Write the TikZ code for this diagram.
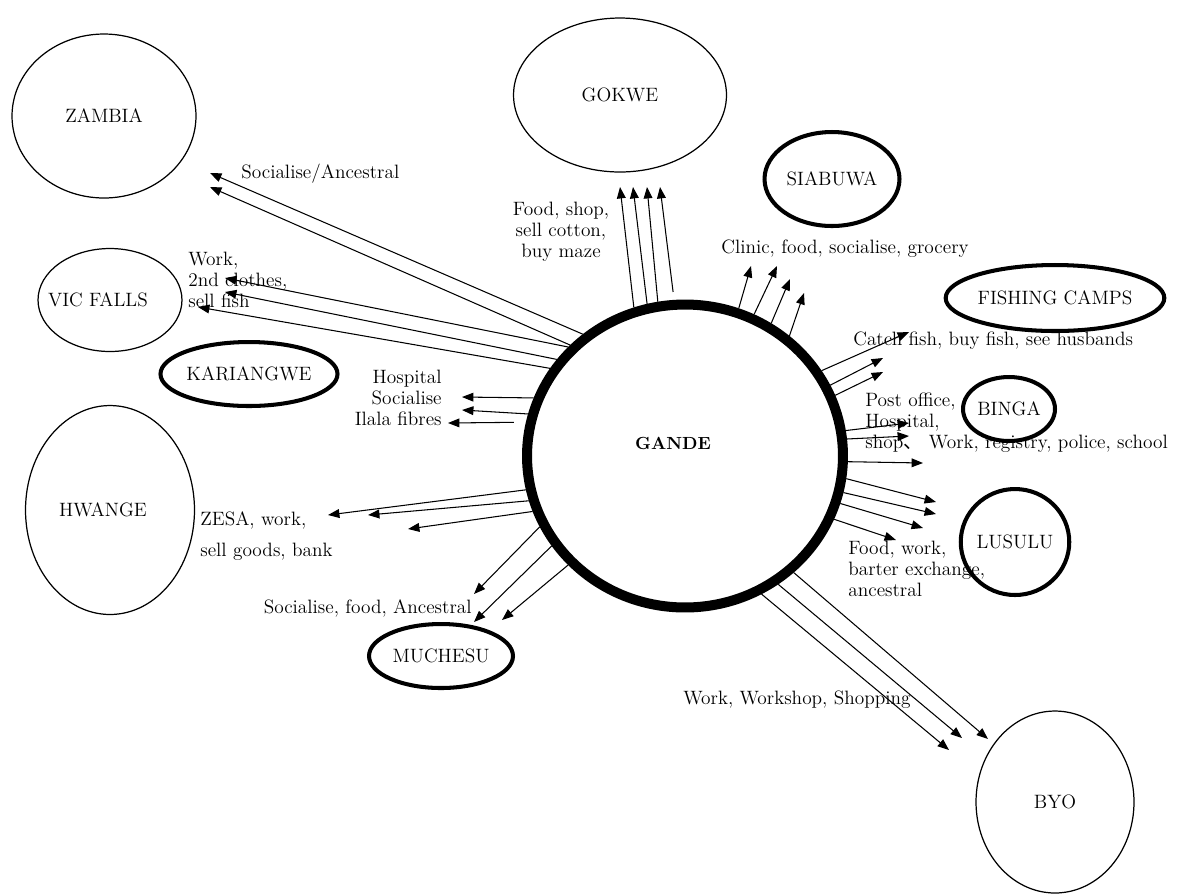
\documentclass[tikz,border=0pt]{standalone}
\usepackage{fontspec}
\newfontfamily\cjk{Noto Sans CJK SC}
\usetikzlibrary{shapes.geometric, arrows.meta}
\newcommand{\mapfont}{\fontsize{11}{12}\selectfont}

\begin{document}
\begin{tikzpicture}[x=0.02cm, y=-0.02cm,
    place/.style={ellipse, draw, line width=0.7pt, inner sep=0pt, font=\mapfont},
    camp/.style={place, line width=2.3pt},
    route/.style={-{Triangle[length=6.5pt, width=5pt]}, line width=0.6pt},
    note/.style={inner sep=0pt, font=\mapfont}]

\useasboundingbox (0,0) rectangle (1179,894);

% Gande and the places it is linked to
\node[ellipse, draw, line width=5.7pt, minimum width=6.32cm, minimum height=6.06cm,
      label={[font=\bfseries, shift={(-0.24cm,0.26cm)}]center:GANDE}] (gande) at (685,456) {};

\node[place, minimum width=3.68cm, minimum height=3.28cm] (zambia) at (104,116) {ZAMBIA};
\node[place, minimum width=2.88cm, minimum height=2.06cm,
      label={[font=\mapfont, xshift=-0.24cm]center:VIC FALLS}] (vicfalls) at (110,300) {};
\node[camp, minimum width=3.16cm, minimum height=1.28cm] (kariangwe) at (249,374) {KARIANGWE};
\node[place, minimum width=3.38cm, minimum height=4.18cm,
      label={[font=\mapfont, xshift=-0.14cm]center:HWANGE}] (hwange) at (110,510) {};
\node[place, minimum width=4.26cm, minimum height=3.08cm] (gokwe) at (620,95) {GOKWE};
\node[camp, minimum width=2.70cm, minimum height=1.88cm] (siabuwa) at (832,179) {SIABUWA};
\node[camp, minimum width=3.72cm, minimum height=1.32cm] (fishing) at (1055,298) {FISHING CAMPS};
\node[camp, minimum width=1.84cm, minimum height=1.28cm] (binga) at (1009,409) {BINGA};
\node[camp, minimum width=2.06cm, minimum height=2.12cm] (lusulu) at (1015,542) {LUSULU};
\node[camp, minimum width=2.88cm, minimum height=1.28cm] (muchesu) at (441,656) {MUCHESU};
\node[place, minimum width=3.16cm, minimum height=3.64cm] (byo) at (1055,802) {BYO};

% reasons for travel
\node[note, anchor=base west] (n-zambia) at (241,178) {Socialise/Ancestral};
\node[note, anchor=west, align=left] (n-vic) at (188,280) {Work,\\2nd clothes,\\sell fish};
\node[note, anchor=east, align=right] (n-hosp) at (442,398) {Hospital\\Socialise\\Ilala fibres};
\node[note, anchor=west, align=left] (n-hwange) at (200,536) {ZESA, work,\\[6pt]sell goods, bank};
\node[note, anchor=base east] (n-muchesu) at (472,613) {Socialise, food, Ancestral};
\node[note, align=center] (n-gokwe) at (561,232) {Food, shop,\\ sell cotton,\\buy maze};
\node[note, anchor=base west] (n-siabuwa) at (721,253) {Clinic, food, socialise, grocery};
\node[note, anchor=base west] (n-fishing) at (853,345) {Catch fish, buy fish, see husbands};
\node[note, anchor=west, align=left] (n-binga) at (865,423) {Post office,\\Hospital,\\shop{\cjk 、} Work, registry, police, school};
\node[note, anchor=west, align=left] (n-lusulu) at (848,569) {Food, work,\\barter exchange,\\ancestral};
\node[note, anchor=base west] (n-byo) at (683,704) {Work, Workshop, Shopping};

% arrows out of Gande
\foreach \a/\x/\y [count=\i] in {130.3/210/173, 136.2/210/187}
  {\coordinate (zambia-\i) at (\x,\y); \draw[route] (gande.\a) -- (zambia-\i);}
\foreach \a/\x/\y [count=\i] in {137.0/225/278, 143.1/225/292, 147.6/198/307}
  {\coordinate (vic-\i) at (\x,\y); \draw[route] (gande.\a) -- (vic-\i);}
\foreach \a/\x/\y [count=\i] in {159.4/462/397, 165.4/462/410}
  {\coordinate (hosp-\i) at (\x,\y); \draw[route] (gande.\a) -- (hosp-\i);}
\coordinate (hosp-3) at (448,423);
\draw[route, shorten <=0.24cm] (gande.168.3) -- (hosp-3);
\foreach \a/\x/\y [count=\i] in {192.3/328/515, 196.6/368/515, 200.8/408/529}
  {\coordinate (hwange-\i) at (\x,\y); \draw[route] (gande.\a) -- (hwange-\i);}
\foreach \a/\x/\y [count=\i] in {206.7/474/594, 214.0/474/622, 223.5/502/620}
  {\coordinate (muchesu-\i) at (\x,\y); \draw[route] (gande.\a) -- (muchesu-\i);}
\foreach \a/\x/\y [count=\i] in {299.9/949/750, 306.9/962/738, 313.7/988/739}
  {\coordinate (byo-\i) at (\x,\y); \draw[route] (gande.\a) -- (byo-\i);}
\foreach \a/\x/\y [count=\i] in {352.3/936/502, 347.8/936/514, 343.6/923/528, 337.8/896/540}
  {\coordinate (lusulu-\i) at (\x,\y); \draw[route] (gande.\a) -- (lusulu-\i);}
\foreach \a/\x/\y [count=\i] in {9.7/909/423, 6.6/909/436, -2.5/923/463}
  {\coordinate (binga-\i) at (\x,\y); \draw[route] (gande.\a) -- (binga-\i);}
\foreach \a/\x/\y [count=\i] in {32.7/909/332, 26.7/883/358, 22.5/883/372}
  {\coordinate (fishing-\i) at (\x,\y); \draw[route] (gande.\a) -- (fishing-\i);}
\foreach \a/\x/\y [count=\i] in {70.8/751/266, 64.2/777/266, 57.8/790/279, 49.2/804/293}
  {\coordinate (siabuwa-\i) at (\x,\y); \draw[route] (gande.\a) -- (siabuwa-\i);}
\foreach \a/\x/\y [count=\i] in {109.3/620/187, 104.3/633/187, 100.3/647/187}
  {\coordinate (gokwe-\i) at (\x,\y); \draw[route] (gande.\a) -- (gokwe-\i);}
\coordinate (gokwe-4) at (660,187);
\draw[route, shorten <=0.16cm] (gande.94.5) -- (gokwe-4);

\end{tikzpicture}
\end{document}
